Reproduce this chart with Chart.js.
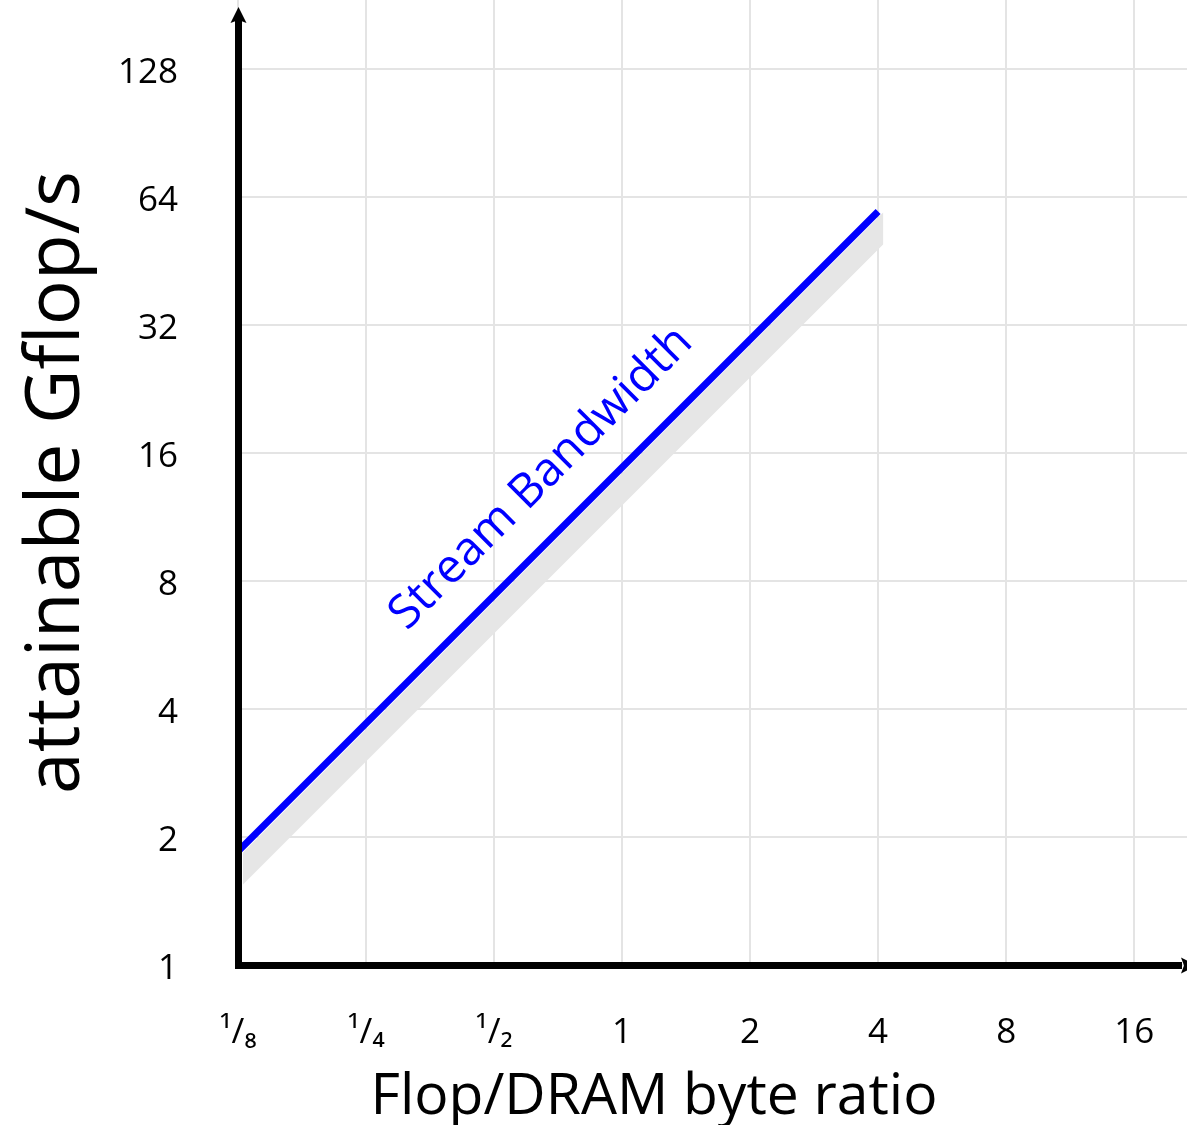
<!DOCTYPE html>
<html>
<head>
<meta charset="utf-8">
<script src="https://cdn.jsdelivr.net/npm/chart.js@4.4.1/dist/chart.umd.min.js"></script>
<style>
  html, body { margin: 0; padding: 0; background: #fff; }
  #wrap { width: 1187px; height: 1125px; }
</style>
</head>
<body>
<div id="wrap"><canvas id="roofline" width="1187" height="1125"></canvas></div>
<script>
// Axis ticks (log2 spacing) and their labels
const ratioTicks = [0.125, 0.25, 0.5, 1, 2, 4, 8, 16];
const ratioLabels = ['¹/₈', '¹/₄', '¹/₂', '1', '2', '4', '8', '16'];
const gflopTicks = [1, 2, 4, 8, 16, 32, 64, 128];
const gflopLabels = ['1', '2', '4', '8', '16', '32', '64', '128'];

// Stream bandwidth roof: attainable Gflop/s vs Flop/DRAM byte ratio
const streamRatio = [0.125, 4];
const streamGflops = [1.85, 59.2];
const streamName = 'Stream Bandwidth';
const streamNameAt = 0.78;   // ratio where the roof label sits

// Visible axis ranges
const ratioRange = [0.125, 21.3];
const gflopRange = [1, 186];

const FONT = '"Open Sans", "Noto Sans", "DejaVu Sans", sans-serif';
const GRID = '#e4e4e4';

// Grey band drawn beneath the bandwidth roof
const shadowPlugin = {
  id: 'roofShadow',
  beforeDatasetsDraw(chart) {
    const pts = chart.getDatasetMeta(0).data;
    if (pts.length < 2) return;
    const a = pts[0], b = pts[pts.length - 1];
    const ctx = chart.ctx;
    ctx.save();
    ctx.fillStyle = '#e6e6e6';
    ctx.beginPath();
    ctx.moveTo(a.x + 5, a.y + 1);
    ctx.lineTo(b.x + 5, b.y + 1);
    ctx.lineTo(b.x + 5, b.y + 33);
    ctx.lineTo(a.x + 5, a.y + 33);
    ctx.closePath();
    ctx.fill();
    ctx.restore();
  }
};

// Heavy black axes with arrow heads, roof label and x-axis title
const decorPlugin = {
  id: 'decor',
  afterDatasetsDraw(chart) {
    const ctx = chart.ctx;
    const { left, right, top, bottom } = chart.chartArea;
    ctx.save();
    ctx.fillStyle = '#000';
    // vertical axis + arrow
    ctx.fillRect(left - 3, top + 20, 7, bottom - top - 17);
    ctx.beginPath();
    ctx.moveTo(left + 0.5, top + 7);
    ctx.lineTo(left + 8.5, top + 23);
    ctx.lineTo(left + 0.5, top + 20);
    ctx.lineTo(left - 7.5, top + 23);
    ctx.closePath();
    ctx.fill();
    // horizontal axis + arrow
    ctx.fillRect(left - 3, bottom - 3, right - 5 - (left - 3), 7);
    ctx.beginPath();
    ctx.moveTo(right + 10, bottom + 0.5);
    ctx.lineTo(right - 6, bottom - 7.5);
    ctx.lineTo(right - 3, bottom + 0.5);
    ctx.lineTo(right - 6, bottom + 8.5);
    ctx.closePath();
    ctx.fill();

    // roof label, parallel to the line
    const pts = chart.getDatasetMeta(0).data;
    const a = pts[0], b = pts[pts.length - 1];
    const px = chart.scales.x.getPixelForValue(streamNameAt);
    const t = (px - a.x) / (b.x - a.x);
    const py = a.y + t * (b.y - a.y);
    const ang = Math.atan2(b.y - a.y, b.x - a.x);
    ctx.translate(px, py);
    ctx.rotate(ang);
    ctx.fillStyle = '#0000ff';
    ctx.font = '47px ' + FONT;
    ctx.textAlign = 'center';
    ctx.textBaseline = 'alphabetic';
    ctx.fillText(streamName, 0, -36);
    ctx.restore();

    // x-axis title
    ctx.save();
    ctx.fillStyle = '#000';
    ctx.font = '57px ' + FONT;
    ctx.textAlign = 'center';
    ctx.textBaseline = 'alphabetic';
    ctx.fillText('Flop/DRAM byte ratio', 654, 1114);
    ctx.restore();
  }
};

new Chart(document.getElementById('roofline'), {
  type: 'line',
  data: {
    datasets: [{
      label: streamName,
      data: streamRatio.map((r, i) => ({ x: r, y: streamGflops[i] })),
      borderColor: '#0000ff',
      borderWidth: 7,
      borderCapStyle: 'butt',
      pointRadius: 0,
      fill: false,
      tension: 0
    }]
  },
  options: {
    responsive: false,
    animation: false,
    devicePixelRatio: 1,
    layout: { padding: 0 },
    plugins: { legend: { display: false }, tooltip: { enabled: false } },
    scales: {
      x: {
        type: 'logarithmic',
        min: ratioRange[0],
        max: ratioRange[1],
        afterBuildTicks: s => { s.ticks = ratioTicks.map(v => ({ value: v })); },
        afterFit: s => { s.height = 160; s.paddingLeft = 0; s.paddingRight = 0; },
        grid: { color: GRID, lineWidth: 2, drawTicks: false },
        border: { display: false },
        ticks: {
          autoSkip: false,
          maxRotation: 0,
          padding: 47,
          color: '#000',
          font: { family: FONT, size: 35 },
          callback: v => ratioLabels[ratioTicks.indexOf(v)]
        }
      },
      y: {
        type: 'logarithmic',
        min: gflopRange[0],
        max: gflopRange[1],
        afterBuildTicks: s => { s.ticks = gflopTicks.map(v => ({ value: v })); },
        afterFit: s => { s.width = 238; s.paddingTop = 0; s.paddingBottom = 0; },
        grid: { color: GRID, lineWidth: 2, drawTicks: false },
        border: { display: false },
        ticks: {
          autoSkip: false,
          padding: 60,
          labelOffset: 4,
          color: '#000',
          font: { family: FONT, size: 35 },
          callback: v => gflopLabels[gflopTicks.indexOf(v)]
        },
        title: {
          display: true,
          text: 'attainable Gflop/s',
          color: '#000',
          font: { family: FONT, size: 75 },
          padding: { top: 13, bottom: 0 }
        }
      }
    }
  },
  plugins: [shadowPlugin, decorPlugin]
});
</script>
</body>
</html>
